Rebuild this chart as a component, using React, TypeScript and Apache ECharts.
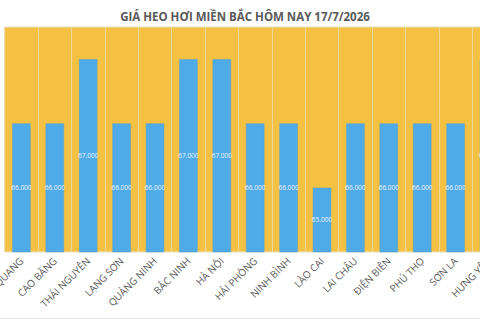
import React, { useEffect, useRef } from "react";
import * as echarts from "echarts";

const categories = [
  "TUYÊN QUANG",
  "CAO BẰNG",
  "THÁI NGUYÊN",
  "LẠNG SƠN",
  "QUẢNG NINH",
  "BẮC NINH",
  "HÀ NỘI",
  "HẢI PHÒNG",
  "NINH BÌNH",
  "LÀO CAI",
  "LAI CHÂU",
  "ĐIỆN BIÊN",
  "PHÚ THỌ",
  "SƠN LA",
  "HƯNG YÊN",
];
const prices = [66000, 66000, 67000, 66000, 66000, 67000, 67000, 66000, 66000, 65000, 66000, 66000, 66000, 66000, 67000];
const titleText = "GIÁ HEO HƠI MIỀN BẮC HÔM NAY 17/7/2026";

const fmt = (v: number) => v.toLocaleString("de-DE");

export default function App() {
  const ref = useRef<HTMLDivElement>(null);
  useEffect(() => {
    if (!ref.current) return;
    const chart = echarts.init(ref.current, null, { renderer: "svg" });
    chart.setOption({
      animation: false,
      backgroundColor: "#ffffff",
      textStyle: { fontFamily: "Open Sans" },
      title: {
        text: titleText,
        left: 240,
        textAlign: "center",
        top: 5,
        textStyle: {
          fontFamily: "Open Sans",
          fontSize: 11.5,
          fontWeight: "bold",
          color: "#595959",
        },
      },
      graphic: [
        {
          type: "line",
          shape: { x1: 0, y1: 318.5, x2: 520, y2: 318.5 },
          style: { stroke: "#E3E3E3", lineWidth: 1 },
        },
      ],
      grid: {
        left: 4.7,
        right: 14.3,
        top: 27,
        bottom: 68,
        outerBoundsMode: "none",
        containLabel: false,
        show: true,
        backgroundColor: "#F4C143",
        borderColor: "#E8E0C8",
        borderWidth: 1,
      },
      xAxis: {
        type: "category",
        data: categories,
        boundaryGap: true,
        axisLine: { show: false },
        axisTick: { show: false },
        splitLine: { show: true, lineStyle: { color: "#EED9A2", width: 1 } },
        axisLabel: {
          rotate: 45,
          interval: 0,
          margin: 7,
          fontSize: 10,
          fontFamily: "Open Sans",
          color: "#595959",
        },
      },
      yAxis: {
        type: "value",
        min: 64000,
        max: 67500,
        show: false,
        splitLine: { show: false },
      },
      series: [
        {
          type: "bar",
          data: prices,
          barWidth: "55%",
          itemStyle: { color: "#4EABE7", borderColor: "#5A9FCB", borderWidth: 0.5 },
          label: {
            show: true,
            position: "inside",
            formatter: (p: any) => fmt(p.value),
            fontSize: 6.5,
            color: "#EEF3F7",
            fontFamily: "Open Sans",
          },
        },
      ],
    });
    return () => chart.dispose();
  }, []);
  return (
    <div style={{ position: "fixed", left: 0, top: 0, width: 480, height: 320, overflow: "hidden", background: "#fff" }}>
      <div ref={ref} style={{ width: 520, height: 320 }} />
    </div>
  );
}
